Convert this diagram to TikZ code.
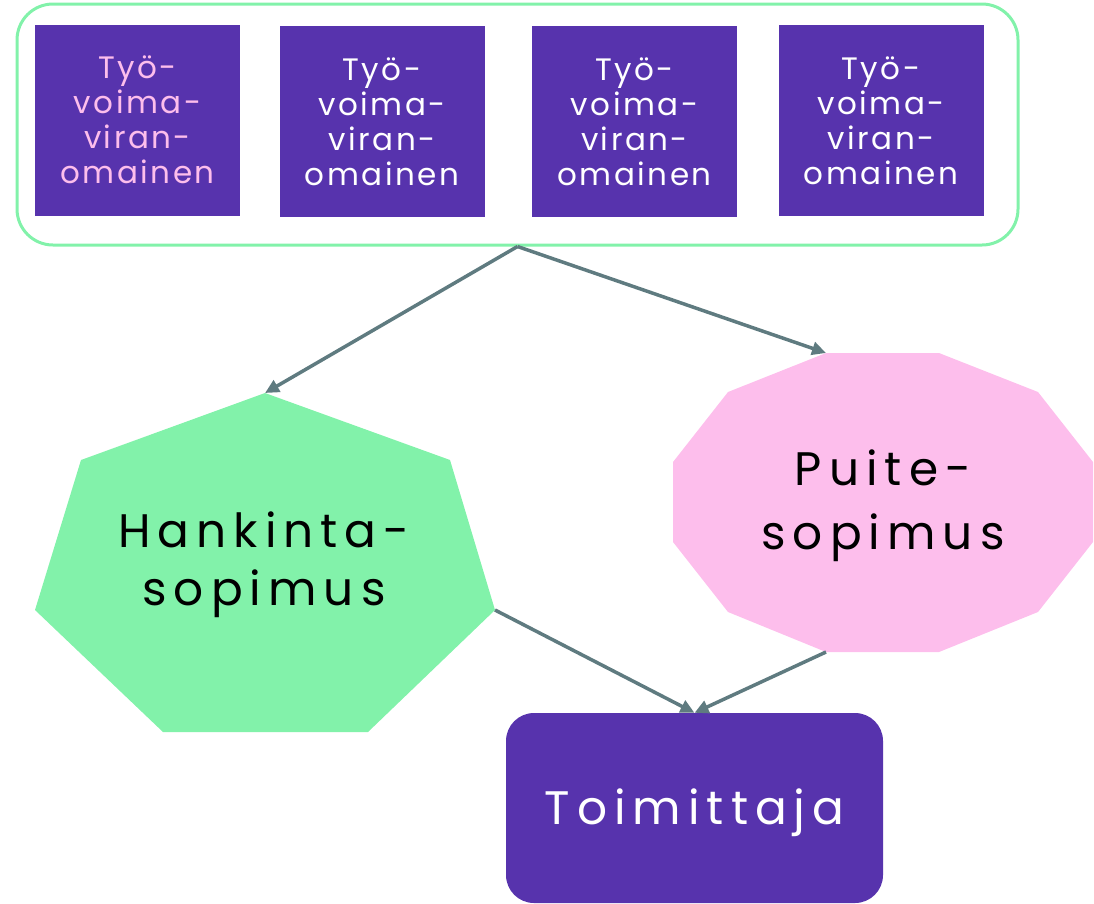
\documentclass[tikz,border=0pt]{standalone}
\usepackage{fontspec}
\setmainfont{Poppins}[LetterSpace=8]
\newfontfamily\widefont{Poppins}[LetterSpace=15]
\usetikzlibrary{arrows.meta}

\definecolor{agencyviolet}{HTML}{5733AD}
\definecolor{mintgreen}{HTML}{82F2AA}
\definecolor{softpink}{HTML}{FDBEEC}
\definecolor{arrowgrey}{HTML}{5F7B80}

\tikzset{
  agency/.style={fill=agencyviolet, text=white, inner sep=0pt, align=center,
    minimum width=205pt, minimum height=191pt,
    font=\fontsize{31}{35}\selectfont},
  group/.style={draw=mintgreen, line width=3pt, rounded corners=36pt,
    minimum width=1001pt, minimum height=241pt, inner sep=0pt},
  bigtext/.style={align=center, text=black, inner sep=0pt},
  supplier/.style={fill=agencyviolet, text=white, rounded corners=28pt,
    minimum width=377pt, minimum height=190pt, inner sep=0pt,
    font=\widefont\fontsize{47}{58}\selectfont},
  flow/.style={draw=arrowgrey, line width=3.5pt,
    -{Triangle[length=14pt,width=13pt]}}
}

\begin{document}
\begin{tikzpicture}[x=1pt, y=-1pt]
    \useasboundingbox (0,0) rectangle (1094,903);
    % Definitions:
    \node[group] (grp) at (517.5,124.5) {};
    \node[agency, text=softpink] (tv1) at (137.5,120) {Työ-\\voima-\\viran-\\omainen};
    \node[agency] (tv2) at (382,121.5) {Työ-\\voima-\\viran-\\omainen};
    \node[agency] (tv3) at (634.5,121.5) {Työ-\\voima-\\viran-\\omainen};
    \node[agency] (tv4) at (881,120.5) {Työ-\\voima-\\viran-\\omainen};
    % Drawing:
    \fill[mintgreen] (265,393) coordinate (hk top) -- (450,460)
      -- (495,610) coordinate (hk right) -- (368,732) -- (163,732)
      -- (35,610) -- (81,460) -- cycle;
    \fill[softpink] (826,353) coordinate (ps top) -- (939,353) -- (1038,392)
      -- (1093,462) -- (1093,542) -- (1038,612) -- (939,652)
      -- (826,652) coordinate (ps bottom) -- (728,612) -- (673,542)
      -- (673,462) -- (728,392) -- cycle;
    \node[supplier, text depth=2pt] (toim) at (694.5,808) {Toimittaja};
    % Labels:
    \node[bigtext, font=\widefont\fontsize{47}{58}\selectfont] (hk) at (264,565) {Hankinta-\\sopimus};
    \node[bigtext, font=\widefont\fontsize{47}{64}\selectfont] (ps) at (883,506) {Puite-\\sopimus};
    % Connectors:
    \draw[flow] (grp.south) -- (hk top);
    \draw[flow] (grp.south) -- (ps top);
    \draw[flow] (hk right) -- (toim.north);
    \draw[flow] (ps bottom) -- (toim.north);
  \end{tikzpicture}
\end{document}
